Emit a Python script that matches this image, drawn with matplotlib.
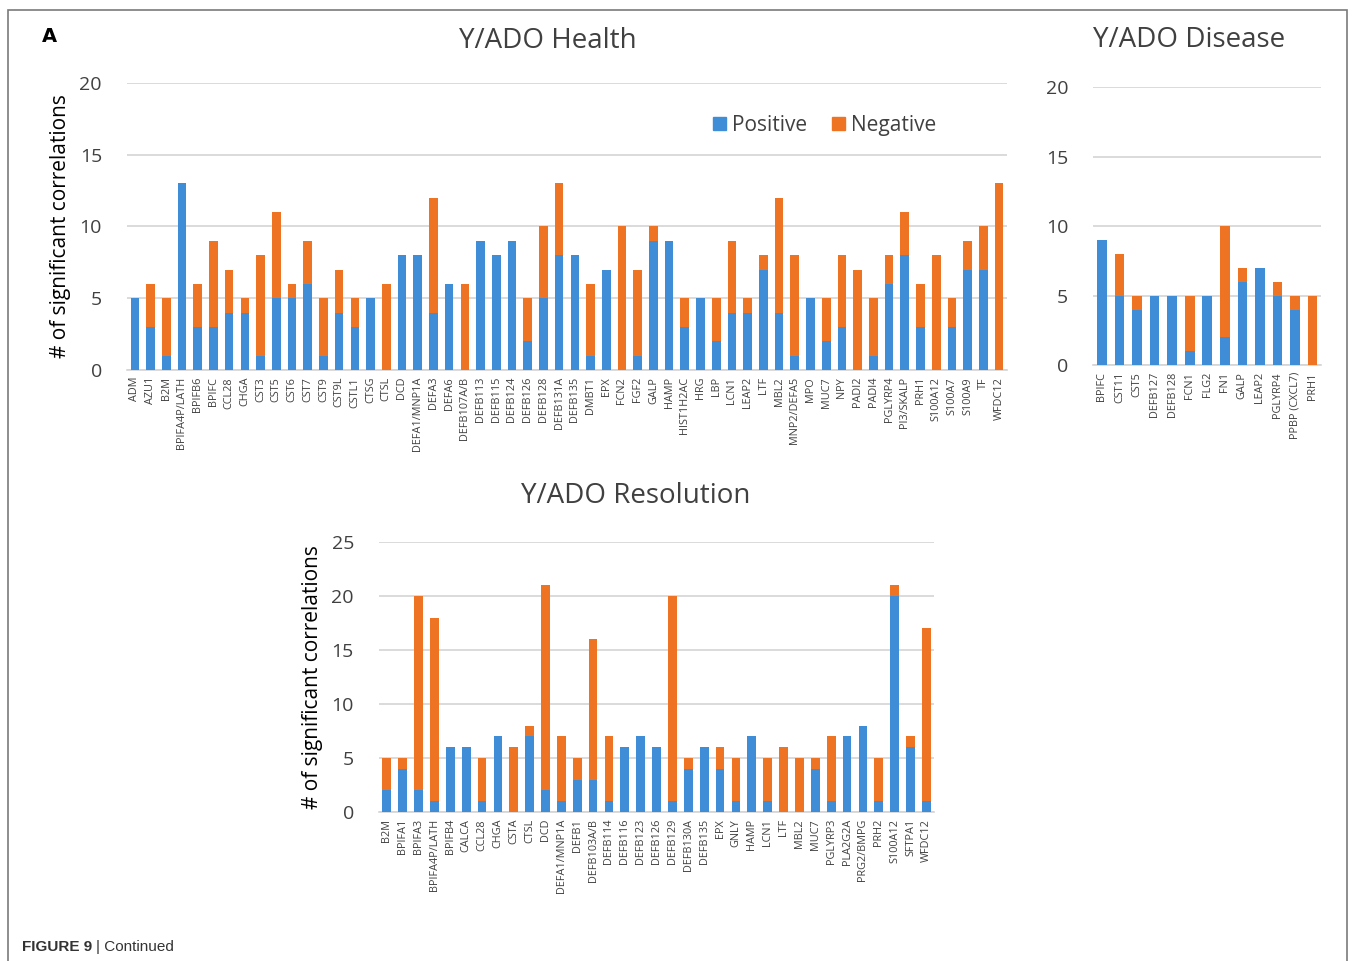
import matplotlib
matplotlib.use("Agg")
import matplotlib.pyplot as plt
from matplotlib.patches import Rectangle, Patch

plt.rcParams['font.family'] = ['Open Sans', 'DejaVu Sans']

BLUE = '#3f8dd6'
ORANGE = '#ee7424'
TXT = '#404040'
GRID = '#d4d4d4'

# Y/ADO Health
health_genes = ["ADM", "AZU1", "B2M", "BPIFA4P/LATH", "BPIFB6", "BPIFC", "CCL28", "CHGA",
                "CST3", "CST5", "CST6", "CST7", "CST9", "CST9L", "CSTL1", "CTSG", "CTSL",
                "DCD", "DEFA1/MNP1A", "DEFA3", "DEFA6", "DEFB107A/B", "DEFB113", "DEFB115",
                "DEFB124", "DEFB126", "DEFB128", "DEFB131A", "DEFB135", "DMBT1", "EPX",
                "FCN2", "FGF2", "GALP", "HAMP", "HIST1H2AC", "HRG", "LBP", "LCN1", "LEAP2",
                "LTF", "MBL2", "MNP2/DEFA5", "MPO", "MUC7", "NPY", "PADI2", "PADI4",
                "PGLYRP4", "PI3/SKALP", "PRH1", "S100A12", "S100A7", "S100A9", "TF", "WFDC12"]
health_pos = [5, 3, 1, 13, 3, 3, 4, 4, 1, 5, 5, 6, 1, 4, 3, 5, 0, 8, 8, 4, 6, 0, 9, 8,
              9, 2, 5, 8, 8, 1, 7, 0, 1, 9, 9, 3, 5, 2, 4, 4, 7, 4, 1, 5, 2, 3, 0, 1,
              6, 8, 3, 0, 3, 7, 7, 0]
health_neg = [0, 3, 4, 0, 3, 6, 3, 1, 7, 6, 1, 3, 4, 3, 2, 0, 6, 0, 0, 8, 0, 6, 0, 0,
              0, 3, 5, 5, 0, 5, 0, 10, 6, 1, 0, 2, 0, 3, 5, 1, 1, 8, 7, 0, 3, 5, 7, 4,
              2, 3, 3, 8, 2, 2, 3, 13]

# Y/ADO Disease
disease_genes = ["BPIFC", "CST11", "CST5", "DEFB127", "DEFB128", "FCN1", "FLG2", "FN1",
                 "GALP", "LEAP2", "PGLYRP4", "PPBP (CXCL7)", "PRH1"]
disease_pos = [9, 5, 4, 5, 5, 1, 5, 2, 6, 7, 5, 4, 0]
disease_neg = [0, 3, 1, 0, 0, 4, 0, 8, 1, 0, 1, 1, 5]

# Y/ADO Resolution
res_genes = ["B2M", "BPIFA1", "BPIFA3", "BPIFA4P/LATH", "BPIFB4", "CALCA", "CCL28", "CHGA",
             "CSTA", "CTSL", "DCD", "DEFA1/MNP1A", "DEFB1", "DEFB103A/B", "DEFB114",
             "DEFB116", "DEFB123", "DEFB126", "DEFB129", "DEFB130A", "DEFB135", "EPX",
             "GNLY", "HAMP", "LCN1", "LTF", "MBL2", "MUC7", "PGLYRP3", "PLA2G2A",
             "PRG2/BMPG", "PRH2", "S100A12", "SFTPA1", "WFDC12"]
res_pos = [2, 4, 2, 1, 6, 6, 1, 7, 0, 7, 2, 1, 3, 3, 1, 6, 7, 6, 1, 4, 6, 4, 1, 7, 1,
           0, 0, 4, 1, 7, 8, 1, 20, 6, 1]
res_neg = [3, 1, 18, 17, 0, 0, 4, 0, 6, 1, 19, 6, 2, 13, 6, 0, 0, 0, 19, 1, 0, 2, 4, 0,
           4, 6, 5, 1, 6, 0, 0, 4, 1, 1, 16]


def draw(ax, genes, pos, neg, ymax, title, tx, tpad):
    x = range(len(genes))
    ax.bar(x, pos, width=0.55, color=BLUE, zorder=3)
    ax.bar(x, neg, width=0.55, bottom=pos, color=ORANGE, zorder=3)
    ax.set_xlim(-0.5, len(genes) - 0.5)
    ax.set_ylim(0, ymax)
    ax.set_yticks(range(0, ymax + 1, 5))
    ax.yaxis.grid(True, color=GRID, linewidth=1.2, zorder=0)
    for s in ['top', 'right', 'left']:
        ax.spines[s].set_visible(False)
    ax.spines['bottom'].set_color(GRID)
    ax.spines['bottom'].set_linewidth(1.2)
    ax.tick_params(axis='y', length=0, labelsize=14, labelcolor=TXT, pad=18)
    ax.tick_params(axis='x', length=0, pad=5)
    ax.set_xticks(list(x))
    ax.set_xticklabels(genes, rotation=90, fontsize=7.8, color=TXT)
    ax.set_title(title, fontsize=20, color=TXT, pad=tpad, x=tx)


fig = plt.figure(figsize=(13.58, 9.61), dpi=100)

ax1 = fig.add_axes([0.0935, 0.615, 0.648, 0.2987])
draw(ax1, health_genes, health_pos, health_neg, 20, 'Y/ADO Health', 0.478, 25)
ax1.set_ylabel('# of significant correlations', fontsize=15, color='black', labelpad=6)
handles = [Patch(color=BLUE), Patch(color=ORANGE)]
ax1.legend(handles, ['Positive', 'Negative'], loc='upper left', bbox_to_anchor=(0.645, 0.955),
           ncol=2, frameon=False, fontsize=15, handlelength=0.6, handleheight=0.6,
           handletextpad=0.3, columnspacing=1.2, labelcolor=TXT)

ax2 = fig.add_axes([0.805, 0.620, 0.168, 0.289])
draw(ax2, disease_genes, disease_pos, disease_neg, 20, 'Y/ADO Disease', 0.42, 29)

ax3 = fig.add_axes([0.279, 0.155, 0.409, 0.281])
draw(ax3, res_genes, res_pos, res_neg, 25, 'Y/ADO Resolution', 0.463, 28)
ax3.set_ylabel('# of significant correlations', fontsize=15, color='black', labelpad=6)

# frame around the panel
fig.patches.append(Rectangle((8 / 1358, -0.01), 1347 / 1358 - 8 / 1358, 1 - 10 / 961 + 0.01,
                             transform=fig.transFigure, fill=False, edgecolor='#7a7a7a',
                             linewidth=1.2))
fig.text(42 / 1358, 1 - 36 / 961, 'A', fontsize=14, fontweight='bold', family='DejaVu Sans',
         va='center', ha='left')
fig.text(22 / 1358, 1 - 947 / 961, 'FIGURE 9', fontsize=11, fontweight='bold',
         family='Liberation Sans', color='#333333', va='center', ha='left')
fig.text(96 / 1358, 1 - 947 / 961, '| Continued', fontsize=11, family='Liberation Sans',
         color='#333333', va='center', ha='left')

fig.savefig('out.png', dpi=100)
